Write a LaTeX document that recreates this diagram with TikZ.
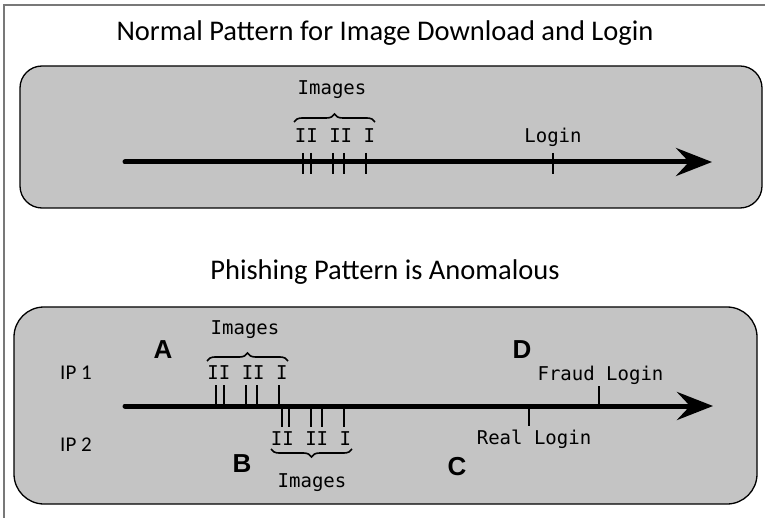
\documentclass[tikz,border=0pt]{standalone}
\usepackage{fontspec}
\setmainfont{Carlito}
\newfontfamily\monofont{DejaVu Sans Mono}
\newfontfamily\lettfont{Liberation Sans}
\usetikzlibrary{arrows.meta,decorations.pathreplacing}
\definecolor{panelgray}{RGB}{196,196,196}
\definecolor{framegray}{RGB}{120,120,120}
\tikzset{
  panel/.style={draw=black, line width=1.3pt, fill=panelgray, inner sep=0pt},
  title/.style={font=\fontsize{28.5}{32}\selectfont, inner sep=0pt},
  timeline/.style={line width=5pt, line cap=round, -{Stealth[length=36pt,width=28pt,inset=13pt]}},
  tick/.style={line width=2.4pt},
  mono/.style={font=\monofont\fontsize{19}{21}\selectfont, inner sep=0pt},
  iplabel/.style={font=\fontsize{21}{23}\selectfont, inner sep=0pt},
  letter/.style={font=\lettfont\bfseries\fontsize{26}{28}\selectfont, inner sep=0pt},
  imgbrace/.style={line width=1.6pt, decorate, decoration={brace, amplitude=8pt, aspect=0.5}},
}
\begin{document}
\begin{tikzpicture}[x=1pt, y=-1pt]
  \useasboundingbox (0,0) rectangle (765,518);
  % outer frame: top and left edges only
  \draw[framegray, line width=1.3pt] (4,518) -- (4,5) -- (765,5);

  % ---------- normal pattern ----------
  \node[title] (t1) at (385,33) {Normal Pattern for Image Download and Login};
  \node[panel, rounded corners=22pt, minimum width=742pt, minimum height=142pt] (box1) at (391,137) {};

  \coordinate (s1) at (125,162);
  \coordinate (e1) at (712,162);
  \draw[timeline] (s1) -- (e1);

  \foreach \x in {303,311,333,344,366} \draw[tick] (\x,153) -- (\x,174);
  \draw[tick] (553,153) -- (553,174);

  \node[mono] (lab1) at (335,136) {II II I};
  \draw[imgbrace] (294,122) -- (375,122);
  \node[mono] (img1) at (332,90) {Images};
  \node[mono] (login1) at (553,137) {Login};

  % ---------- phishing pattern ----------
  \node[title] (t2) at (385,272) {Phishing Pattern is Anomalous};
  \node[panel, rounded corners=30pt, minimum width=743pt, minimum height=197pt] (box2) at (385.5,405.5) {};

  \coordinate (s2) at (125,406);
  \coordinate (e2) at (713,406);
  \draw[timeline] (s2) -- (e2);

  \node[iplabel] (ip1) at (76,373) {IP 1};
  \node[iplabel] (ip2) at (76,445) {IP 2};

  \node[letter] (la) at (163,350) {A};
  \node[letter] (lb) at (242,464) {B};
  \node[letter] (lc) at (457,467) {C};
  \node[letter] (ld) at (522,350) {D};

  % images fetched from IP 1
  \foreach \x in {216,224,246,257,279} \draw[tick] (\x,385) -- (\x,406);
  \node[mono] (lab2) at (247.5,373) {II II I};
  \draw[imgbrace] (207,361) -- (288,361);
  \node[mono] (img2) at (245,330) {Images};

  % images fetched from IP 2
  \foreach \x in {282,289,311,322,344} \draw[tick] (\x,406) -- (\x,427);
  \node[mono] (lab3) at (311,439) {II II I};
  \draw[imgbrace] (352,449) -- (271,449);
  \node[mono] (img3) at (312,483) {Images};

  % logins
  \draw[tick] (529,406) -- (529,426);
  \node[mono] (real) at (534,439) {Real Login};
  \draw[tick] (599,386) -- (599,406);
  \node[mono] (fraud) at (600.5,375) {Fraud Login};
\end{tikzpicture}
\end{document}
